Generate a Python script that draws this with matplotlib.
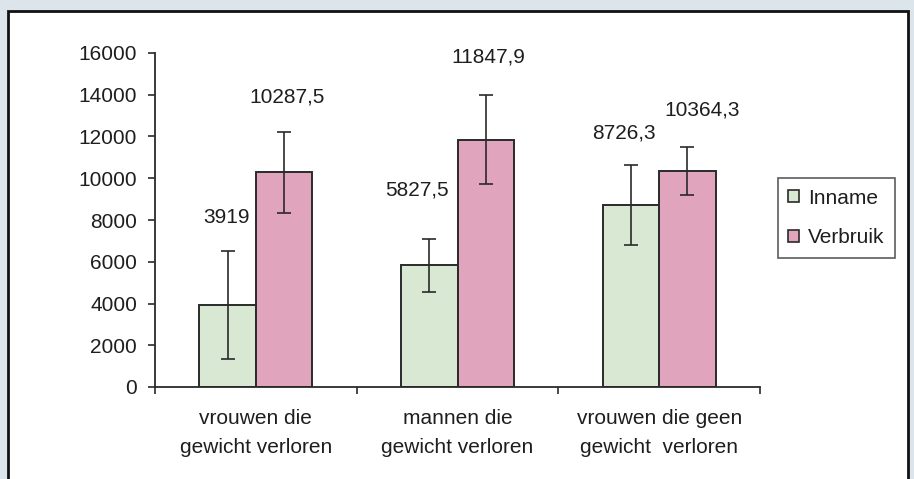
import matplotlib
matplotlib.use("Agg")
import matplotlib.pyplot as plt
from matplotlib.patches import Rectangle, Patch
import numpy as np

# ---- data ----
categories = ["vrouwen die\ngewicht verloren",
              "mannen die\ngewicht verloren",
              "vrouwen die geen\ngewicht  verloren"]
series_names = ["Inname", "Verbruik"]
inname = [3919, 5827.5, 8726.3]
verbruik = [10287.5, 11847.9, 10364.3]
inname_err = [2590, 1270, 1900]
verbruik_err = [1950, 2130, 1150]
inname_labels = ["3919", "5827,5", "8726,3"]
verbruik_labels = ["10287,5", "11847,9", "10364,3"]
yticks = [0, 2000, 4000, 6000, 8000, 10000, 12000, 14000, 16000]

# ---- style ----
plt.rcParams['font.family'] = ['Liberation Sans', 'DejaVu Sans']
FS = 15
green = '#d8e8d2'
pink = '#e0a4bc'
edge = '#2a2a2a'
txt = '#1e1e1e'

W, H = 914, 479
fig = plt.figure(figsize=(W / 100, H / 100), dpi=100)
fig.patch.set_facecolor('#dde5ec')

# white inner panel with dark border
panel = Rectangle((8 / W, -0.2), 900 / W, 1.2 - 11 / H, transform=fig.transFigure,
                  facecolor='white', edgecolor='#111111', linewidth=2.0, zorder=-10)
fig.patches.append(panel)

ax = fig.add_axes([155 / W, 1 - 387 / H, 605 / W, 334 / H])
ax.set_facecolor('none')

x = np.arange(len(categories))
bw = 0.28
err_kw = dict(ecolor=edge, elinewidth=1.2, capsize=5, capthick=1.2)
b1 = ax.bar(x - bw / 2, inname, bw, color=green, edgecolor=edge, linewidth=1.4,
            yerr=inname_err, error_kw=err_kw, zorder=2)
b2 = ax.bar(x + bw / 2, verbruik, bw, color=pink, edgecolor=edge, linewidth=1.4,
            yerr=verbruik_err, error_kw=err_kw, zorder=2)

# value labels (offsets in pixels relative to error bar top)
g_off = [(-1, 34), (-12, 49), (-7, 32)]
p_off = [(3, 35), (3, 38), (15, 37)]
for i in range(len(categories)):
    ax.annotate(inname_labels[i], (x[i] - bw / 2, inname[i] + inname_err[i]),
                xytext=g_off[i], textcoords='offset pixels', ha='center', va='center',
                fontsize=FS, color=txt)
    ax.annotate(verbruik_labels[i], (x[i] + bw / 2, verbruik[i] + verbruik_err[i]),
                xytext=p_off[i], textcoords='offset pixels', ha='center', va='center',
                fontsize=FS, color=txt)

ax.set_ylim(0, 16000)
ax.set_xlim(-0.5, len(categories) - 0.5)
ax.set_yticks(yticks)
ax.set_yticklabels([str(v) for v in yticks])
ax.set_xticks(np.arange(len(categories) + 1) - 0.5)
ax.set_xticklabels([])
ax.set_xticks(x, minor=True)
ax.set_xticklabels(categories, minor=True, linespacing=1.65)

for s in ['top', 'right']:
    ax.spines[s].set_visible(False)
for s in ['left', 'bottom']:
    ax.spines[s].set_color(edge)
    ax.spines[s].set_linewidth(1.3)
ax.tick_params(axis='y', direction='out', length=5, width=1.2, color=edge,
               labelsize=FS, labelcolor=txt, pad=8)
ax.tick_params(axis='x', which='major', direction='out', length=5, width=1.2, color=edge)
ax.tick_params(axis='x', which='minor', length=0, labelsize=FS, labelcolor=txt, pad=16)

handles = [Patch(facecolor=green, edgecolor=edge, linewidth=1.2),
           Patch(facecolor=pink, edgecolor=edge, linewidth=1.2)]
leg = fig.legend(handles, series_names, loc='center left',
                 bbox_to_anchor=(778 / W, 1 - 218 / H), frameon=True, fancybox=False,
                 fontsize=FS, handlelength=0.5, handleheight=0.5, handletextpad=0.45,
                 labelspacing=1.0, borderpad=0.5, borderaxespad=0)
leg.get_frame().set_edgecolor('#333333')
leg.get_frame().set_linewidth(1.2)
for t in leg.get_texts():
    t.set_color(txt)

fig.savefig('out.png', dpi=100, facecolor=fig.get_facecolor())
